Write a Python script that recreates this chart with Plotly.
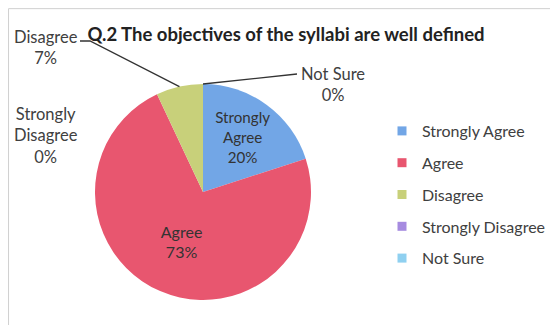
import math
import plotly.graph_objects as go

# ---- data ----
categories = ["Strongly Agree", "Agree", "Disagree", "Strongly Disagree", "Not Sure"]
values = [20, 73, 7, 0, 0]
colors = ["#72A6E6", "#E8566F", "#C8D07A", "#A68BE0", "#8FD0F0"]
title_text = "Q.2 The objectives of the syllabi are well defined"

# page body has an 8px margin on every side, so size the figure to fit inside it
OFF = 8
W, H = 558 - 2 * OFF, 333 - 2 * OFF
FONT = "Lato, Carlito, 'Open Sans', sans-serif"


def PX(x):
    return (x - OFF) / W


def PY(y):
    return 1 - (y - OFF) / H


# pie placement (window px)
cx, cy, r = 203, 192, 108
dom_x = [PX(cx - r), PX(cx + r)]
dom_y = [PY(cy + r), PY(cy - r)]

inside_text = [c.replace(" ", "<br>") for c in categories]
textpos = ["inside" if v >= 10 else "none" for v in values]

fig = go.Figure()
fig.add_trace(go.Pie(
    labels=categories, values=values, text=inside_text,
    texttemplate="%{text}<br>%{percent:.0%}",
    textposition=textpos, insidetextorientation="horizontal",
    textfont=dict(family=FONT, size=16, color="#333333"),
    marker=dict(colors=colors, line=dict(width=0)),
    sort=False, direction="clockwise", rotation=0,
    domain=dict(x=dom_x, y=dom_y), showlegend=False, hoverinfo="label+percent",
))

# legend entries (one group each so they can be spaced like the original)
for i, (c, col) in enumerate(zip(categories, colors)):
    fig.add_trace(go.Scatter(
        x=[None], y=[None], mode="markers", name=c, legendgroup=f"g{i}",
        marker=dict(symbol="square", size=9, color=col), showlegend=True,
    ))

# outside labels with leader lines
total = sum(values)
cum = 0
mids = []
for v in values:
    mids.append((cum + v / 2) / total)
    cum += v


def edge_point(frac):
    ang = 2 * math.pi * frac
    return cx + r * math.sin(ang), cy - r * math.cos(ang)


def pct(v):
    return f"{round(100 * v / total)}%"


label_pos = {
    "Disagree": (46, 47, "Disagree<br>{p}", (80, 41)),
    "Strongly Disagree": (46, 136, "Strongly<br>Disagree<br>{p}", None),
    "Not Sure": (333, 84, "Not Sure<br>{p}", (297, 74)),
}
annotations = []
shapes = []
for i, c in enumerate(categories):
    if c not in label_pos:
        continue
    lx, ly, tmpl, elbow = label_pos[c]
    annotations.append(dict(
        x=PX(lx), y=PY(ly), xref="paper", yref="paper", showarrow=False,
        xanchor="center", yanchor="middle",
        text=tmpl.format(p=pct(values[i])), align="center",
        font=dict(family=FONT, size=16.5, color="#404040"),
    ))
    if elbow is not None:
        px, py = edge_point(mids[i])
        ex, ey = elbow
        if c == "Disagree":
            pts = [(px, py), (ex + 10, ey), (ex, ey)]
        else:
            pts = [(px, py), (ex, ey)]
        path = "M " + " L ".join(f"{PX(x)},{PY(y)}" for x, y in pts)
        shapes.append(dict(type="path", path=path, xref="paper", yref="paper",
                           line=dict(color="#333333", width=1.3)))

# chart frame
shapes.append(dict(type="rect", xref="paper", yref="paper",
                   x0=0.001, x1=1.05, y0=-0.05, y1=0.998,
                   line=dict(color="#D0D0D0", width=1), layer="below"))

fig.update_layout(
    width=W, height=H, margin=dict(l=0, r=0, t=0, b=0, autoexpand=False),
    paper_bgcolor="white", plot_bgcolor="white",
    title=dict(text=f"<b>{title_text}</b>", x=PX(286), xanchor="center",
               y=PY(35), yanchor="middle",
               font=dict(family=FONT, size=18.5, color="#222222")),
    xaxis=dict(visible=False), yaxis=dict(visible=False),
    legend=dict(x=PX(382), y=PY(114), xanchor="left", yanchor="top",
                traceorder="grouped", tracegroupgap=8,
                font=dict(family=FONT, size=16, color="#404040"),
                bgcolor="rgba(0,0,0,0)", itemclick=False),
    annotations=annotations, shapes=shapes,
)

fig.write_html("out.html")
